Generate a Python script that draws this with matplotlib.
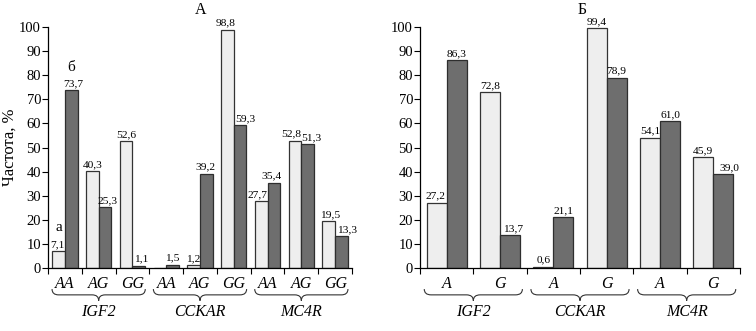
import matplotlib
matplotlib.use("Agg")
import matplotlib.pyplot as plt
import numpy as np
from matplotlib.path import Path
from matplotlib.patches import PathPatch
import matplotlib.transforms as mtransforms

plt.rcParams['font.family'] = ['Liberation Serif', 'DejaVu Serif']

# ---- data ----
genes = ["IGF2", "CCKAR", "MC4R"]
genotypes_a = ["AA", "AG", "GG"]
alleles_b = ["A", "G"]

light_a = [7.1, 40.3, 52.6, 0.0, 1.2, 98.8, 27.7, 52.8, 19.5]
dark_a = [73.7, 25.3, 1.1, 1.5, 39.2, 59.3, 35.4, 51.3, 13.3]
light_a_labels = ["7,1", "40,3", "52,6", None, "1,2", "98,8", "27,7", "52,8", "19,5"]
dark_a_labels = ["73,7", "25,3", "1,1", "1,5", "39,2", "59,3", "35,4", "51,3", "13,3"]

light_b = [27.2, 72.8, 0.6, 99.4, 54.1, 45.9]
dark_b = [86.3, 13.7, 21.1, 78.9, 61.0, 39.0]
light_b_labels = ["27,2", "72,8", "0,6", "99,4", "54,1", "45,9"]
dark_b_labels = ["86,3", "13,7", "21,1", "78,9", "61,0", "39,0"]

yticks = [0, 10, 20, 30, 40, 50, 60, 70, 80, 90, 100]

# ---- label nudges (pixels, horizontal) ----
light_a_dx = [-1, 0, 0, 0, -1, -2, -4, -4, 1]
dark_a_dx = [2, 3, 2, 0, -1, 5, -2, 4, 6]
light_b_dx = [-1, 0, 0, 0, 0, 0]
dark_b_dx = [0, 3, 0, 0, 0, 6]

LIGHT = "#eeeeee"
LIGHT_EDGE = "#333333"
DARK = "#6e6e6e"
DARK_EDGE = "#2e2e2e"

W, H = 756, 331
fig = plt.figure(figsize=(W / 100, H / 100), dpi=100)

def px_axes(x0, x1, ytop, ybot):
    return fig.add_axes([x0 / W, 1 - ybot / H, (x1 - x0) / W, (ybot - ytop) / H])

def brace(ax, x0, x1, yt, ym, yb):
    tr = mtransforms.blended_transform_factory(ax.transData, ax.transAxes)
    xc = (x0 + x1) / 2
    d = (x1 - x0) * 0.07
    verts = [(x0, yt), (x0, ym), (x0 + d, ym),
             (xc - d, ym), (xc, ym), (xc, yb),
             (xc, ym), (xc + d, ym),
             (x1 - d, ym), (x1, ym), (x1, yt)]
    codes = [Path.MOVETO, Path.CURVE3, Path.CURVE3,
             Path.LINETO, Path.CURVE3, Path.CURVE3,
             Path.CURVE3, Path.CURVE3,
             Path.LINETO, Path.CURVE3, Path.CURVE3]
    p = PathPatch(Path(verts, codes), transform=tr, fill=False, lw=0.8,
                  edgecolor="#333333", clip_on=False)
    ax.add_patch(p)

def panel(ax, light, dark, llab, dlab, ldx, ddx, cats_per_gene, cat_names):
    n = len(light)
    x = np.arange(n)
    w = 0.375
    ax.bar(x - w / 2, light, width=w, color=LIGHT, edgecolor=LIGHT_EDGE, lw=0.9)
    ax.bar(x + w / 2, dark, width=w, color=DARK, edgecolor=DARK_EDGE, lw=0.9)
    for i in range(n):
        if llab[i] is not None:
            ax.annotate(llab[i], (x[i] - w / 2, light[i]), xytext=(ldx[i] * 0.72, 1.5),
                        textcoords="offset points", ha="center", va="bottom", fontsize=8.2)
        if dlab[i] is not None:
            ax.annotate(dlab[i], (x[i] + w / 2, dark[i]), xytext=(ddx[i] * 0.72, 1.5),
                        textcoords="offset points", ha="center", va="bottom", fontsize=8.2)
    ax.set_xlim(-0.5, n - 0.5)
    ax.set_ylim(0, 100)
    ax.set_yticks(yticks)
    ax.set_yticklabels([str(t) for t in yticks], fontsize=10.5)
    ax.set_xticks(np.arange(n + 1) - 0.5)
    ax.set_xticklabels([])
    ax.tick_params(axis="x", direction="out", length=4, width=0.8)
    ax.tick_params(axis="y", direction="out", length=4, width=0.8, pad=1)
    ax.spines["top"].set_visible(False)
    ax.spines["right"].set_visible(False)
    for s in ("left", "bottom"):
        ax.spines[s].set_linewidth(0.9)
    tr = mtransforms.blended_transform_factory(ax.transData, ax.transAxes)
    for i in range(n):
        ax.text(x[i], -0.065, cat_names[i % cats_per_gene], transform=tr, ha="center",
                va="center", fontsize=11.5, style="italic")
    for g, gene in enumerate(genes):
        gx0 = g * cats_per_gene - 0.5
        gx1 = gx0 + cats_per_gene
        pad = 0.04 * cats_per_gene
        brace(ax, gx0 + pad, gx1 - pad, -0.086, -0.11, -0.134)
        ax.text((gx0 + gx1) / 2, -0.18, gene, transform=tr, ha="center", va="center",
                fontsize=11.5, style="italic")

ax1 = px_axes(48, 352, 26.8, 268.3)
panel(ax1, light_a, dark_a, light_a_labels, dark_a_labels, light_a_dx, dark_a_dx, 3, genotypes_a)
ax1.set_ylabel("Частота, %", fontsize=12, labelpad=1)
ax1.annotate("а", (0 - 0.1875, 7.1), xytext=(0, 12), textcoords="offset points",
             ha="center", va="bottom", fontsize=11)
ax1.annotate("б", (0 + 0.1875, 73.7), xytext=(0, 12), textcoords="offset points",
             ha="center", va="bottom", fontsize=11)
fig.text(201 / W, 1 - 10 / H, "А", ha="center", va="center", fontsize=11.5)

ax2 = px_axes(420, 740, 26.8, 268.3)
panel(ax2, light_b, dark_b, light_b_labels, dark_b_labels, light_b_dx, dark_b_dx, 2, alleles_b)
fig.text(582 / W, 1 - 10 / H, "Б", ha="center", va="center", fontsize=11.5)

fig.savefig("out.png", dpi=100)
